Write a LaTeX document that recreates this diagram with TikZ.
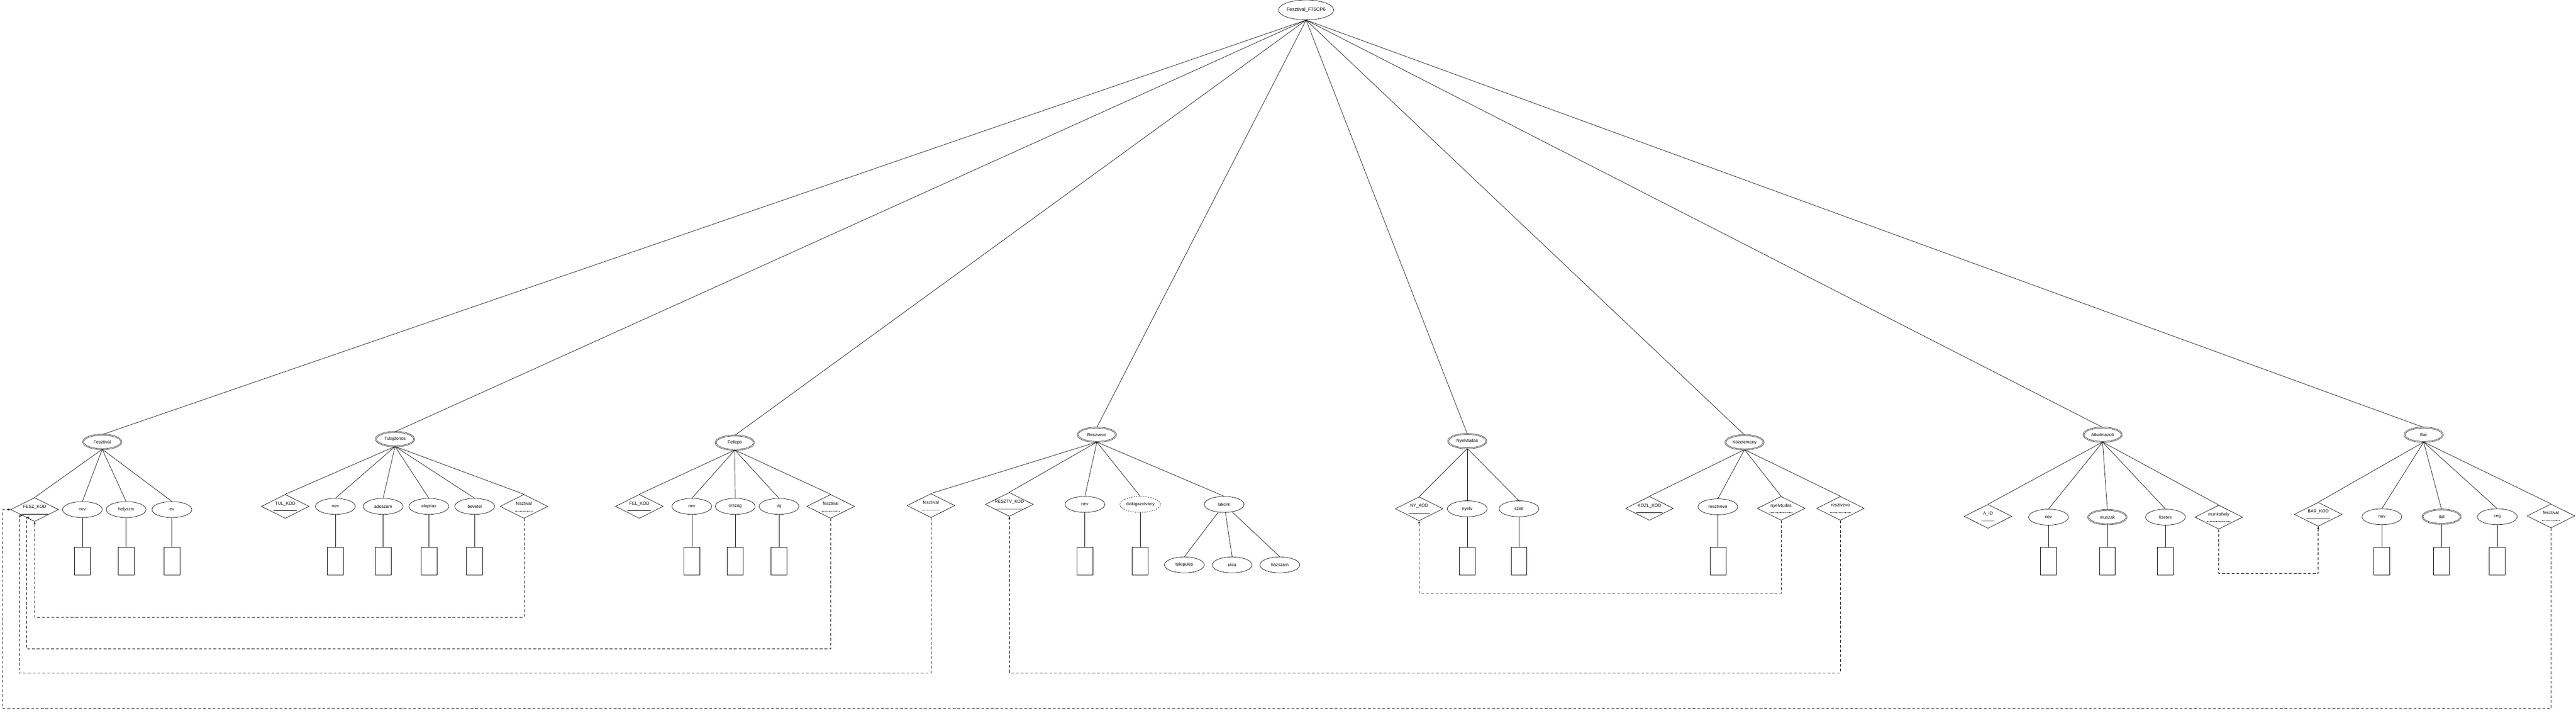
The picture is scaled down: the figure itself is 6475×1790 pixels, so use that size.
\documentclass[tikz,border=0pt]{standalone}
\usepackage{fontspec}
\setmainfont{Liberation Sans}
\usetikzlibrary{shapes.geometric,arrows.meta}
\newcommand{\keyul}[2][black]{\setbox0\hbox{#2}\vtop{\copy0\kern2.5pt\hbox to\wd0{\hss\color{#1}\rule{\dimexpr\wd0+8pt}{1pt}\hss}}}
\newcommand{\fkul}[1]{\setbox0\hbox{#1}\vtop{\copy0\kern2.5pt\hbox to\wd0{\hss\hbox to\dimexpr\wd0+6pt{\xleaders\hbox to 3pt{\hss\rule{1.8pt}{0.9pt}\hss}\hfil}\hss}}}

\begin{document}
\begin{tikzpicture}[x=1pt,y=-1pt,line width=0.9pt,font=\fontsize{11}{13}\selectfont,
  ent/.style={ellipse,draw,double,double distance=1.5pt,minimum width=96pt,minimum height=36pt,inner sep=0pt},
  attr/.style={ellipse,draw,minimum width=100pt,minimum height=40pt,inner sep=0pt},
  multi/.style={attr,double,double distance=1.5pt,minimum width=96pt,minimum height=36pt},
  keyattr/.style={diamond,draw,shape aspect=2,minimum width=120pt,minimum height=60pt,inner sep=0pt},
  val/.style={rectangle,draw,minimum width=40pt,minimum height=70pt},
  fk/.style={dash pattern=on 7pt off 5pt,-{Stealth[length=7pt,width=5pt]}}]
\useasboundingbox (0,0) rectangle (6475,1790);

\node [ellipse,draw,minimum width=110pt,minimum height=50pt,inner sep=0pt,font=\fontsize{12}{14}\selectfont] (top) at (3283,25) {Fesztival\_F75CP6};

\node [ent] (fesz) at (257,1110) {Fesztival};
\node [ent] (tul) at (993,1103) {Tulajdonos};
\node [ent] (fel) at (1847,1112) {Fellepo};
\node [ent] (res) at (2757,1092) {Reszvevo};
\node [ent] (nyt) at (3688,1108) {Nyelvtudas};
\node [ent] (koz) at (4385,1111) {Kozelemeny};
\node [ent] (alk) at (5285,1092) {Alkalmazott};
\node [ent] (bar) at (6092,1092) {Bar};

\node [keyattr] (feszkod) at (87,1280) {\keyul{FESZ\_KOD}};
\node [attr] (fnev) at (207,1280) {nev};
\node [attr] (fhely) at (317,1280) {helyszin};
\node [attr] (fev) at (432,1280) {ev};

\node [keyattr] (tulkod) at (717,1272) {\keyul{TUL\_KOD}};
\node [attr] (tnev) at (843,1272) {nev};
\node [attr] (tado) at (963,1272) {adoszam};
\node [attr] (talap) at (1078,1272) {alapitas};
\node [attr] (tbev) at (1193,1272) {bevetel};
\node [keyattr] (tfesz) at (1317,1272) {\fkul{fesztival}};

\node [keyattr] (felkod) at (1607,1272) {\keyul{FEL\_KOD}};
\node [attr] (flnev) at (1739,1272) {nev};
\node [attr] (forsz) at (1848,1272) {orszag};
\node [attr] (fdij) at (1958,1272) {dij};
\node [keyattr] (flfesz) at (2088,1272) {\fkul{fesztival}};

\node [keyattr] (rfesz) at (2340,1270) {\fkul{fesztival}};
\node [keyattr] (rkod) at (2537,1267) {\keyul[gray]{RESZTV\_KOD}};
\node [attr] (rnev) at (2727,1267) {nev};
\node [attr,dashed] (rdiak) at (2866,1267) {diakigazolvany};
\node [attr] (rlak) at (3077,1267) {lakcim};
\node [attr] (rtel) at (2977,1419) {telepules};
\node [attr] (rutca) at (3097,1419) {utca};
\node [attr] (rhaz) at (3217,1419) {hazszam};

\node [keyattr] (nykod) at (3567,1278) {\keyul{NY\_KOD}};
\node [attr] (nyelv) at (3688,1278) {nyelv};
\node [attr] (szint) at (3818,1278) {szint};

\node [keyattr] (kozkod) at (4146,1277) {\keyul{KOZL\_KOD}};
\node [attr] (kres) at (4318,1273) {resztvevo};
\node [keyattr] (knyt) at (4477,1277) {\fkul{nyelvtudas}};
\node [keyattr] (kresd) at (4626,1277) {\fkul{resztvevo}};

\node [keyattr] (aid) at (4997,1297) {\keyul[gray]{A\_ID}};
\node [attr] (anev) at (5149,1299) {nev};
\node [multi] (amusz) at (5297,1299) {muszak};
\node [attr] (afiz) at (5443,1299) {fizetes};
\node [keyattr] (amunka) at (5577,1299) {\fkul{munkahely}};

\node [keyattr] (barkod) at (5827,1292) {\keyul{BAR\_KOD}};
\node [attr] (bnev) at (5987,1298) {nev};
\node [multi] (bital) at (6137,1298) {ital};
\node [attr] (bceg) at (6277,1298) {ceg};
\node [keyattr] (bfesz) at (6412,1296) {\fkul{fesztival}};

\foreach \e in {fesz,tul,fel,res,nyt,koz,alk,bar}
  \draw (top.south) -- (\e.north);

\foreach \a in {feszkod,fnev,fhely,fev}
  \draw (fesz.south) -- (\a.north);
\foreach \a in {tulkod,tnev,tado,talap,tbev,tfesz}
  \draw (tul.south) -- (\a.north);
\foreach \a in {felkod,flnev,forsz,fdij,flfesz}
  \draw (fel.south) -- (\a.north);
\foreach \a in {rfesz,rkod,rnev,rdiak,rlak}
  \draw (res.south) -- (\a.north);
\foreach \a in {rtel,rutca,rhaz}
  \draw (rlak) -- (\a.north);
\foreach \a in {nykod,nyelv,szint}
  \draw (nyt.south) -- (\a.north);
\foreach \a in {kozkod,kres,knyt,kresd}
  \draw (koz.south) -- (\a.north);
\foreach \a in {aid,anev,amusz,afiz,amunka}
  \draw (alk.south) -- (\a.north);
\foreach \a in {barkod,bnev,bital,bceg,bfesz}
  \draw (bar.south) -- (\a.north);

\foreach \a in {fnev,fhely,fev,tnev,tado,talap,tbev,flnev,forsz,fdij,rnev,rdiak,nyelv,szint,kres,anev,amusz,afiz,bnev,bital,bceg}{
  \node [val] (\a-v) at (\a |- 0,1410) {};
  \draw (\a.south) -- (\a-v.north);
}

\draw [fk] (tfesz.south) |- (87,1550) -- (feszkod.south);
\draw [fk] (flfesz.south) |- (67,1630) |- (feszkod.225);
\draw [fk] (rfesz.south) |- (48,1690) |- (feszkod.south west);
\draw [fk] (bfesz.south) |- (7,1780) |- (feszkod.west);
\draw [fk] (knyt.south) |- (3567,1490) -- (nykod.south);
\draw [fk] (kresd.south) |- (2537,1690) -- (rkod.south);
\draw [fk] (amunka.south) |- (5827,1441) -- (barkod.south);
\end{tikzpicture}
\end{document}
